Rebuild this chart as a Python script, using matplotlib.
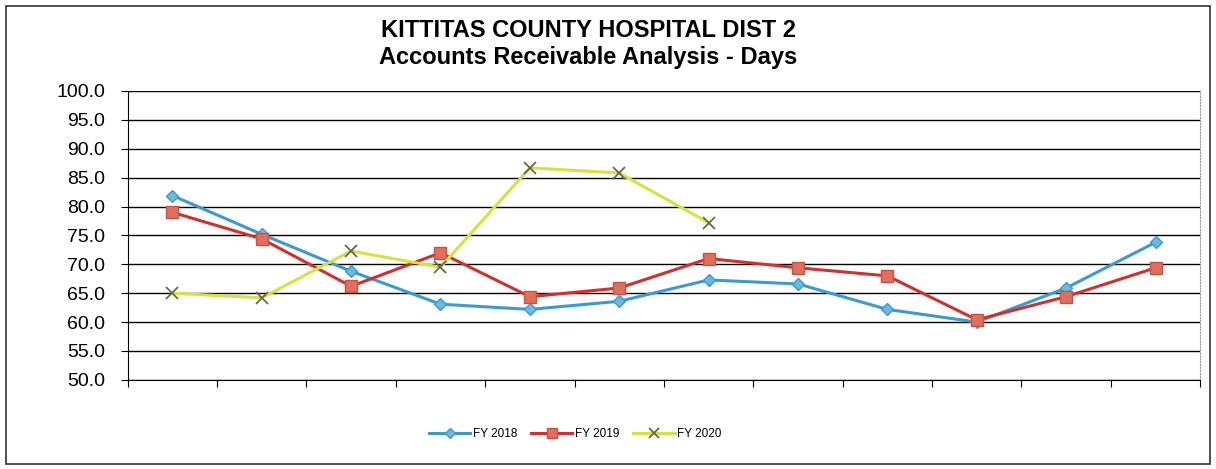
import matplotlib
matplotlib.use('Agg')
import matplotlib.pyplot as plt

plt.rcParams['font.family'] = ['Liberation Sans', 'DejaVu Sans']

# monthly values (12 periods), FY 2020 only partial
months = list(range(12))
fy2018 = [81.9, 75.2, 68.8, 63.1, 62.2, 63.6, 67.3, 66.6, 62.2, 60.0, 65.9, 73.8]
fy2019 = [79.0, 74.4, 66.2, 72.0, 64.4, 65.9, 71.0, 69.4, 68.0, 60.4, 64.4, 69.4]
fy2020 = [65.0, 64.2, 72.3, 69.5, 86.7, 85.8, 77.2]
y_ticks = [50 + 5 * i for i in range(11)]

fig = plt.figure(figsize=(12.16, 4.69), dpi=100)

# outer border of the chart
fig.patches.append(plt.Rectangle((0.005, 0.01), 0.99, 0.978, transform=fig.transFigure,
                                 fill=False, edgecolor='#333333', linewidth=1.2))

ax = fig.add_axes([0.105, 0.19, 0.882, 0.616])

ax.plot(months, fy2018, color='#3b9bd0', linewidth=2.2, marker='D', markersize=6,
        markerfacecolor='#6bb8e0', markeredgecolor='#3b9bd0', label='FY 2018', zorder=3)
ax.plot(months, fy2019, color='#d2302c', linewidth=2.2, marker='s', markersize=9,
        markerfacecolor='#e0705c', markeredgecolor='#d05040', label='FY 2019', zorder=4)
ax.plot(months[:len(fy2020)], fy2020, color='#d4e43a', linewidth=2.2, marker='x', markersize=9,
        markeredgecolor='#6a6a4a', markeredgewidth=1.3, label='FY 2020', zorder=5)

ax.set_xlim(-0.5, 11.5)
ax.set_ylim(50, 100)
ax.set_yticks(y_ticks)
ax.set_yticklabels(['%.1f' % v for v in y_ticks], fontsize=14)
ax.set_xticks([i - 0.5 for i in range(13)])
ax.set_xticklabels([])
ax.tick_params(axis='x', direction='out', length=5, color='black')
ax.tick_params(axis='y', direction='out', length=5, color='black', pad=11)
ax.yaxis.grid(True, color='black', linewidth=1.0)
ax.set_axisbelow(True)
ax.spines['top'].set_visible(False)
ax.spines['right'].set_color('#999999')
ax.spines['right'].set_linestyle(':')

fig.text(0.484, 0.934, 'KITTITAS COUNTY HOSPITAL DIST 2', ha='center', va='center',
         fontsize=17, fontweight='bold')
fig.text(0.484, 0.878, 'Accounts Receivable Analysis - Days', ha='center', va='center',
         fontsize=17, fontweight='bold')

fig.legend(loc='center', bbox_to_anchor=(0.473, 0.074), ncol=3, frameon=False,
           fontsize=8.5, handlelength=3.5, columnspacing=1.2, handletextpad=0.2,
           markerscale=0.8)

fig.savefig('out.png', dpi=100)
